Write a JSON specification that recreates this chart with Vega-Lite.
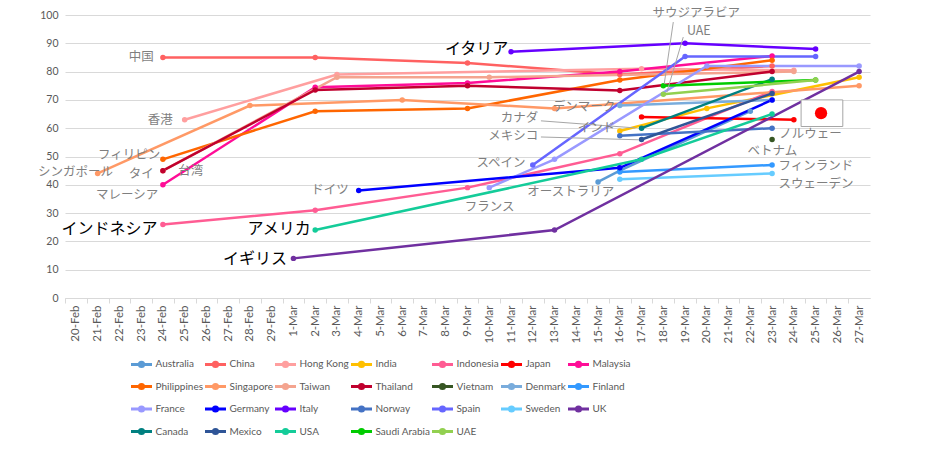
{
  "$schema": "https://vega.github.io/schema/vega-lite/v6.json",
  "description": "Line chart of country scores, 20 Feb to 27 Mar, with Japanese labels",
  "width": 805,
  "height": 283,
  "autosize": {"type": "none"},
  "padding": {"left": 65, "top": 15, "right": 70, "bottom": 161},
  "background": "white",
  "config": {"view": {"stroke": null}, "font": "Lato"},
  "encoding": {
    "x": {
      "field": "date",
      "type": "temporal",
      "scale": {"domain": [{"year": 2020, "month": 2, "date": 19, "hours": 12}, {"year": 2020, "month": 3, "date": 27, "hours": 12}]},
      "axis": {
        "title": null,
        "format": "%-d-%b",
        "labelAngle": -90,
        "tickCount": {"interval": "day", "step": 1},
        "labelOverlap": false,
        "labelFlush": false,
        "grid": false,
        "domainColor": "#D9D9D9",
        "tickColor": "#D9D9D9",
        "tickSize": 5,
        "tickOffset": -10.875,
        "labelOffset": 10.875,
        "labelPadding": 2,
        "labelFontSize": 11.5,
        "labelColor": "#595959"
      }
    },
    "y": {
      "field": "value",
      "type": "quantitative",
      "scale": {"domain": [0, 100], "nice": false},
      "axis": {
        "title": null,
        "values": [0, 10, 20, 30, 40, 50, 60, 70, 80, 90, 100],
        "domain": false,
        "ticks": false,
        "gridColor": "#D9D9D9",
        "labelPadding": 7,
        "labelFontSize": 10.5,
        "labelColor": "#595959"
      }
    }
  },
  "layer": [
    {
      "data": {
        "format": {"parse": {"date": "date:'%Y-%m-%d'"}},
        "values": [
          {"country": "Australia", "date": "2020-03-15", "value": 41},
          {"country": "Australia", "date": "2020-03-16", "value": 45},
          {"country": "Australia", "date": "2020-03-22", "value": 66},
          {"country": "China", "date": "2020-02-24", "value": 85},
          {"country": "China", "date": "2020-03-02", "value": 85},
          {"country": "China", "date": "2020-03-09", "value": 83},
          {"country": "China", "date": "2020-03-16", "value": 79},
          {"country": "China", "date": "2020-03-23", "value": 82},
          {"country": "Hong Kong", "date": "2020-02-25", "value": 63},
          {"country": "Hong Kong", "date": "2020-03-03", "value": 79},
          {"country": "Hong Kong", "date": "2020-03-17", "value": 81},
          {"country": "Hong Kong", "date": "2020-03-24", "value": 80.5},
          {"country": "India", "date": "2020-03-16", "value": 59},
          {"country": "India", "date": "2020-03-20", "value": 67},
          {"country": "India", "date": "2020-03-27", "value": 78},
          {"country": "Indonesia", "date": "2020-02-24", "value": 26},
          {"country": "Indonesia", "date": "2020-03-02", "value": 31},
          {"country": "Indonesia", "date": "2020-03-09", "value": 39},
          {"country": "Indonesia", "date": "2020-03-16", "value": 51},
          {"country": "Indonesia", "date": "2020-03-23", "value": 73},
          {"country": "Japan", "date": "2020-03-17", "value": 64},
          {"country": "Japan", "date": "2020-03-24", "value": 63},
          {"country": "Malaysia", "date": "2020-02-24", "value": 40},
          {"country": "Malaysia", "date": "2020-03-02", "value": 74.5},
          {"country": "Malaysia", "date": "2020-03-09", "value": 76},
          {"country": "Malaysia", "date": "2020-03-16", "value": 80},
          {"country": "Malaysia", "date": "2020-03-23", "value": 85.5},
          {"country": "Philippines", "date": "2020-02-24", "value": 49},
          {"country": "Philippines", "date": "2020-03-02", "value": 66},
          {"country": "Philippines", "date": "2020-03-09", "value": 67},
          {"country": "Philippines", "date": "2020-03-16", "value": 77},
          {"country": "Philippines", "date": "2020-03-23", "value": 84},
          {"country": "Singapore", "date": "2020-02-21", "value": 44},
          {"country": "Singapore", "date": "2020-02-28", "value": 68},
          {"country": "Singapore", "date": "2020-03-06", "value": 70},
          {"country": "Singapore", "date": "2020-03-13", "value": 67},
          {"country": "Singapore", "date": "2020-03-27", "value": 75},
          {"country": "Taiwan", "date": "2020-02-24", "value": 45},
          {"country": "Taiwan", "date": "2020-03-03", "value": 78},
          {"country": "Taiwan", "date": "2020-03-10", "value": 78},
          {"country": "Taiwan", "date": "2020-03-24", "value": 80},
          {"country": "Thailand", "date": "2020-02-24", "value": 45},
          {"country": "Thailand", "date": "2020-03-02", "value": 73.5},
          {"country": "Thailand", "date": "2020-03-09", "value": 75},
          {"country": "Thailand", "date": "2020-03-16", "value": 73.3},
          {"country": "Thailand", "date": "2020-03-23", "value": 80},
          {"country": "Vietnam", "date": "2020-03-23", "value": 56},
          {"country": "Denmark", "date": "2020-03-16", "value": 68},
          {"country": "Denmark", "date": "2020-03-23", "value": 70},
          {"country": "Finland", "date": "2020-03-16", "value": 44.5},
          {"country": "Finland", "date": "2020-03-23", "value": 47},
          {"country": "France", "date": "2020-03-10", "value": 39},
          {"country": "France", "date": "2020-03-13", "value": 49},
          {"country": "France", "date": "2020-03-20", "value": 82},
          {"country": "France", "date": "2020-03-27", "value": 82},
          {"country": "Germany", "date": "2020-03-04", "value": 38},
          {"country": "Germany", "date": "2020-03-16", "value": 46},
          {"country": "Germany", "date": "2020-03-23", "value": 70},
          {"country": "Italy", "date": "2020-03-11", "value": 87},
          {"country": "Italy", "date": "2020-03-19", "value": 90},
          {"country": "Italy", "date": "2020-03-25", "value": 88},
          {"country": "Norway", "date": "2020-03-16", "value": 57.3},
          {"country": "Norway", "date": "2020-03-23", "value": 60},
          {"country": "Spain", "date": "2020-03-12", "value": 47},
          {"country": "Spain", "date": "2020-03-19", "value": 85.3},
          {"country": "Spain", "date": "2020-03-25", "value": 85.3},
          {"country": "Sweden", "date": "2020-03-16", "value": 42},
          {"country": "Sweden", "date": "2020-03-23", "value": 44},
          {"country": "UK", "date": "2020-03-01", "value": 14},
          {"country": "UK", "date": "2020-03-13", "value": 24},
          {"country": "UK", "date": "2020-03-27", "value": 80},
          {"country": "Canada", "date": "2020-03-17", "value": 60},
          {"country": "Canada", "date": "2020-03-23", "value": 77.3},
          {"country": "Mexico", "date": "2020-03-17", "value": 56},
          {"country": "Mexico", "date": "2020-03-23", "value": 72.3},
          {"country": "USA", "date": "2020-03-02", "value": 24},
          {"country": "USA", "date": "2020-03-17", "value": 49},
          {"country": "USA", "date": "2020-03-23", "value": 65},
          {"country": "Saudi Arabia", "date": "2020-03-18", "value": 75},
          {"country": "Saudi Arabia", "date": "2020-03-25", "value": 77},
          {"country": "UAE", "date": "2020-03-18", "value": 72},
          {"country": "UAE", "date": "2020-03-25", "value": 77}
        ]
      },
      "encoding": {
        "color": {
          "field": "country",
          "type": "nominal",
          "scale": {
            "domain": ["Australia", "China", "Hong Kong", "India", "Indonesia", "Japan", "Malaysia", "Philippines", "Singapore", "Taiwan", "Thailand", "Vietnam", "Denmark", "Finland", "France", "Germany", "Italy", "Norway", "Spain", "Sweden", "UK", "Canada", "Mexico", "USA", "Saudi Arabia", "UAE"],
            "range": ["#5B9BD5", "#FF6161", "#FF9F9F", "#FFC000", "#FF5C93", "#FF0000", "#FF0D97", "#FF6600", "#FF9966", "#F4A48F", "#C0002E", "#375623", "#79ACDC", "#3399FF", "#9999FF", "#0000FF", "#6600FF", "#4472C4", "#6666FF", "#66CCFF", "#7030A0", "#008080", "#2F5597", "#14CC99", "#00CC00", "#92D050"]
          },
          "legend": {
            "title": null,
            "orient": "none",
            "legendX": 64.5,
            "legendY": 337,
            "direction": "horizontal",
            "columns": 7,
            "gridAlign": "each",
            "columnPadding": -5,
            "rowPadding": 1.5,
            "padding": 0,
            "symbolType": "M-1,0H1M-0.2,0A0.2,0.2 0 1,0 0.2,0A0.2,0.2 0 1,0 -0.2,0",
            "symbolSize": 441,
            "symbolStrokeWidth": 3,
            "labelFont": "Lato",
            "labelFontSize": 10,
            "labelColor": "#595959",
            "labelOffset": 2
          }
        }
      },
      "layer": [
        {"mark": {"type": "line", "strokeWidth": 2.5}},
        {"mark": {"type": "point", "filled": true, "size": 30, "opacity": 1}}
      ]
    },
    {
      "data": {
        "format": {"parse": {"date": "date:'%Y-%m-%d %H:%M'", "date2": "date:'%Y-%m-%d %H:%M'"}},
        "values": [
          {"date": "2020-03-12 09:00", "value": 62.6, "date2": "2020-03-16 17:00", "value2": 60.1},
          {"date": "2020-03-12 09:00", "value": 56.9, "date2": "2020-03-16 21:00", "value2": 55.9},
          {"date": "2020-03-18 11:00", "value": 97.5, "date2": "2020-03-18 01:00", "value2": 75.6},
          {"date": "2020-03-18 22:00", "value": 92.2, "date2": "2020-03-18 04:00", "value2": 72.8}
        ]
      },
      "mark": {"type": "rule", "color": "#A6A6A6", "strokeWidth": 1},
      "encoding": {"x2": {"field": "date2"}, "y2": {"field": "value2"}}
    },
    {
      "data": {
        "format": {"parse": {"date": "date:'%Y-%m-%d %H:%M'"}},
        "values": [
          {"label": "中国", "date": "2020-02-23 14:00", "value": 85.3},
          {"label": "香港", "date": "2020-02-24 11:00", "value": 62.9},
          {"label": "フィリピン", "date": "2020-02-23 21:00", "value": 50.4},
          {"label": "シンガポール", "date": "2020-02-21 17:00", "value": 44.6},
          {"label": "タイ", "date": "2020-02-23 14:00", "value": 43.9},
          {"label": "マレーシア", "date": "2020-02-23 19:00", "value": 36.5},
          {"label": "ドイツ", "date": "2020-03-03 13:00", "value": 38.0},
          {"label": "カナダ", "date": "2020-03-12 06:00", "value": 63.5},
          {"label": "メキシコ", "date": "2020-03-12 06:00", "value": 57.3},
          {"label": "スペイン", "date": "2020-03-11 16:00", "value": 47.7},
          {"label": "デンマーク", "date": "2020-03-15 19:00", "value": 67.6},
          {"label": "インド", "date": "2020-03-15 19:00", "value": 60.0}
        ]
      },
      "mark": {"type": "text", "align": "right", "baseline": "middle", "font": "Noto Sans CJK JP", "fontSize": 12.5, "color": "#7F7F7F"},
      "encoding": {"text": {"field": "label"}}
    },
    {
      "data": {
        "format": {"parse": {"date": "date:'%Y-%m-%d %H:%M'"}},
        "values": [
          {"label": "台湾", "date": "2020-02-24 17:00", "value": 45.0},
          {"label": "フランス", "date": "2020-03-08 21:00", "value": 32.3},
          {"label": "オーストラリア", "date": "2020-03-11 18:00", "value": 37.6},
          {"label": "ノルウェー", "date": "2020-03-23 08:00", "value": 58.0},
          {"label": "ベトナム", "date": "2020-03-21 21:00", "value": 51.8},
          {"label": "フィンランド", "date": "2020-03-23 07:00", "value": 46.6},
          {"label": "スウェーデン", "date": "2020-03-23 07:00", "value": 40.4},
          {"label": "サウジアラビア", "date": "2020-03-17 12:00", "value": 100.6},
          {"label": "UAE", "date": "2020-03-19 02:00", "value": 94.3}
        ]
      },
      "mark": {"type": "text", "align": "left", "baseline": "middle", "font": "Noto Sans CJK JP", "fontSize": 12.5, "color": "#7F7F7F"},
      "encoding": {"text": {"field": "label"}}
    },
    {
      "data": {
        "format": {"parse": {"date": "date:'%Y-%m-%d %H:%M'"}},
        "values": [
          {"label": "イタリア", "date": "2020-03-10 21:00", "value": 87.9},
          {"label": "インドネシア", "date": "2020-02-23 18:00", "value": 24.4},
          {"label": "アメリカ", "date": "2020-03-01 19:00", "value": 24.4},
          {"label": "イギリス", "date": "2020-02-29 17:00", "value": 13.8}
        ]
      },
      "mark": {"type": "text", "align": "right", "baseline": "middle", "font": "Noto Sans CJK JP", "fontSize": 16, "color": "#000000"},
      "encoding": {"text": {"field": "label"}}
    },
    {
      "data": {
        "format": {"parse": {"date": "date:'%Y-%m-%d %H:%M'", "date2": "date:'%Y-%m-%d %H:%M'"}},
        "values": [
          {"date": "2020-03-24 08:00", "date2": "2020-03-26 06:00", "value": 70, "value2": 60.6}
        ]
      },
      "mark": {"type": "rect", "fill": "#FFFFFF", "stroke": "#A6A6A6", "strokeWidth": 1},
      "encoding": {"x2": {"field": "date2"}, "y2": {"field": "value2"}}
    },
    {
      "data": {
        "format": {"parse": {"date": "date:'%Y-%m-%d %H:%M'"}},
        "values": [
          {"date": "2020-03-25 06:00", "value": 65.3}
        ]
      },
      "mark": {"type": "point", "shape": "circle", "filled": true, "size": 150, "color": "#FF0000", "opacity": 1}
    }
  ]
}
